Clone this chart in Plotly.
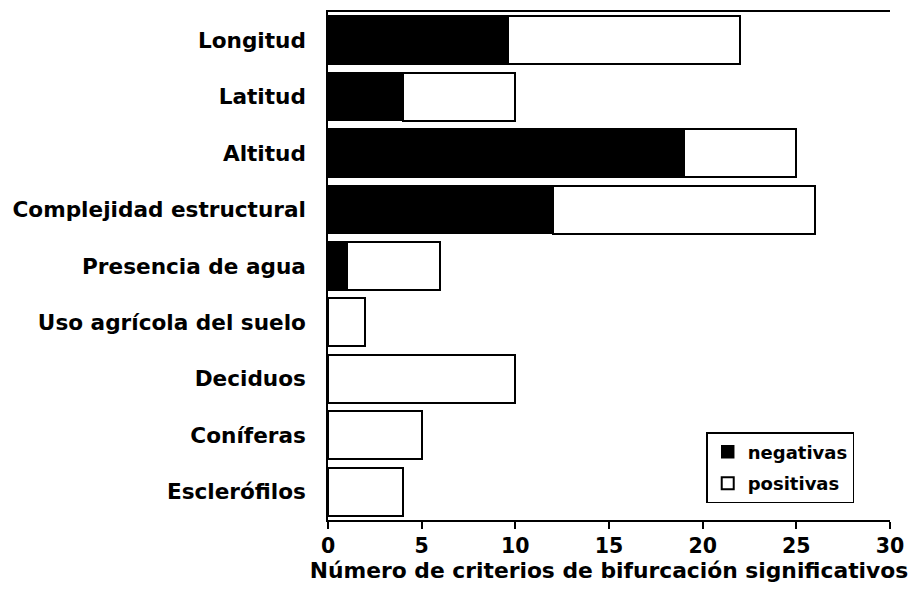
import plotly.graph_objects as go

categories = ["Longitud", "Latitud", "Altitud", "Complejidad estructural",
              "Presencia de agua", "Uso agrícola del suelo", "Deciduos",
              "Coníferas", "Esclerófilos"]
negativas = [9.6, 4, 19, 12, 1, 0, 0, 0, 0]
totales = [22, 10, 25, 26, 6, 2, 10, 5, 4]
positivas = [t - n for t, n in zip(totales, negativas)]
x_ticks = [0, 5, 10, 15, 20, 25, 30]

FONT = "DejaVu Sans"

fig = go.Figure()
fig.add_trace(go.Bar(
    y=categories, x=negativas, orientation="h", name="negativas",
    legendgroup="neg",
    marker=dict(color="black", line=dict(color="black", width=1.5)),
))
fig.add_trace(go.Bar(
    y=categories, x=positivas, orientation="h", name="positivas",
    legendgroup="pos",
    marker=dict(color="white", line=dict(color="black", width=2)),
))

# page body has an 8px margin, so the figure is sized/offset to compensate
fig.update_layout(
    barmode="stack",
    bargap=0.15,
    width=911, height=581,
    margin=dict(l=320, r=29, t=4, b=69, autoexpand=False),
    paper_bgcolor="white", plot_bgcolor="white",
    font=dict(family=FONT, color="black", size=20),
    showlegend=True,
    legend=dict(
        x=0.673, y=0.173, xanchor="left", yanchor="top",
        bordercolor="black", borderwidth=1.5, bgcolor="white",
        font=dict(family=FONT, size=18, color="black", weight="bold"),
        traceorder="grouped", itemwidth=30, tracegroupgap=5,
    ),
    xaxis=dict(
        range=[0, 30], tickvals=x_ticks, ticktext=[str(v) for v in x_ticks],
        showline=True, linecolor="black", linewidth=1.5, mirror=True,
        ticks="outside", ticklen=7, tickwidth=1.5, tickcolor="black",
        showgrid=False, zeroline=False, automargin=False,
        tickfont=dict(family=FONT, size=20.5, color="black", weight="bold"),
        title=dict(text="Número de criterios de bifurcación significativos",
                   font=dict(family=FONT, size=21.8, color="black", weight="bold"),
                   standoff=0),
    ),
    yaxis=dict(
        categoryorder="array", categoryarray=categories,
        autorange=False, range=[8.5, -0.5],
        showline=True, linecolor="black", linewidth=1.5,
        ticks="", showgrid=False, zeroline=False, automargin=False,
        tickfont=dict(family=FONT, size=21.6, color="black", weight="bold"),
        ticklabelstandoff=16,
    ),
)

fig.write_html("out.html")
